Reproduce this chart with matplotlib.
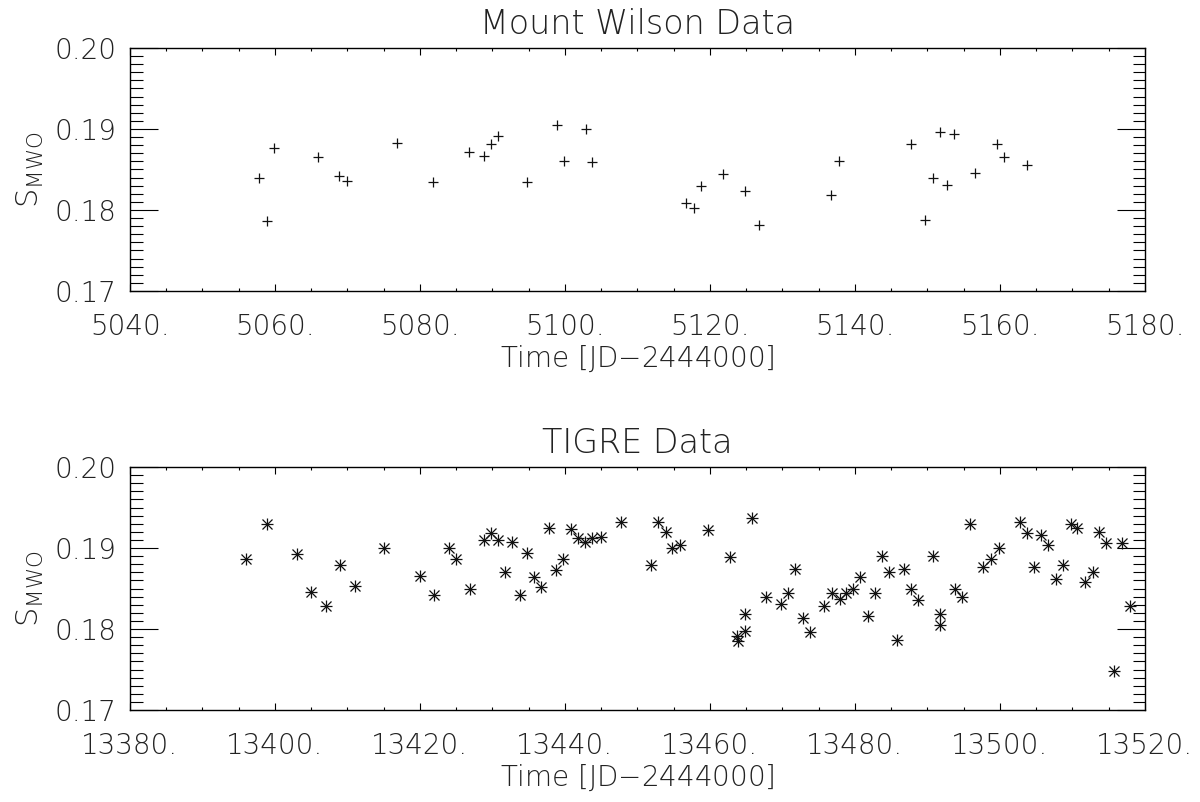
import numpy as np
import matplotlib
matplotlib.use('Agg')
import matplotlib.pyplot as plt
from matplotlib.ticker import MultipleLocator, FixedLocator

# Mount Wilson observations (JD-2444000, S_MWO)
mw_time = [5057.8, 5058.9, 5059.9, 5065.9, 5068.8, 5069.9, 5076.9, 5081.8, 5086.8,
           5088.8, 5089.8, 5090.8, 5094.7, 5098.9, 5099.9, 5102.9, 5103.8,
           5116.7, 5117.8, 5118.8, 5121.8, 5124.9, 5126.7, 5136.7, 5137.8,
           5147.7, 5149.7, 5150.7, 5151.7, 5152.7, 5153.7, 5156.6, 5159.6,
           5160.6, 5163.8]
mw_s = [0.1840, 0.1786, 0.1877, 0.1865, 0.1842, 0.1836, 0.1883, 0.1835, 0.1872,
        0.1867, 0.1882, 0.1891, 0.1835, 0.1905, 0.1860, 0.1900, 0.1859,
        0.1809, 0.1803, 0.1830, 0.1844, 0.1824, 0.1781, 0.1818, 0.1860,
        0.1881, 0.1787, 0.1839, 0.1896, 0.1831, 0.1894, 0.1846, 0.1881,
        0.1866, 0.1856]

# TIGRE observations
tg_time = [13396.0, 13398.9, 13403.0, 13405.0, 13407.0, 13409.0, 13411.0, 13415.0,
           13420.0, 13422.0, 13424.0, 13425.0, 13426.9, 13428.9, 13429.8, 13430.8,
           13431.8, 13432.7, 13433.8, 13434.8, 13435.8, 13436.7, 13437.8, 13438.8,
           13439.8, 13440.8, 13441.8, 13442.8, 13443.8, 13445.0, 13447.8, 13451.9,
           13452.8, 13453.9, 13454.8, 13455.9, 13459.8, 13462.8, 13463.8, 13463.9,
           13464.8, 13464.9, 13465.8, 13467.7, 13469.8, 13470.8, 13471.8, 13472.8,
           13473.8, 13475.8, 13476.8, 13477.9, 13478.8, 13479.7, 13480.7, 13481.8,
           13482.7, 13483.7, 13484.7, 13485.8, 13486.7, 13487.7, 13488.7, 13490.8,
           13491.8, 13491.8, 13493.8, 13494.8, 13495.9, 13497.6, 13498.7, 13499.9,
           13502.8, 13503.8, 13504.7, 13505.6, 13506.7, 13507.7, 13508.7, 13509.8,
           13510.7, 13511.8, 13512.8, 13513.7, 13514.7, 13515.7, 13516.8, 13517.9]
tg_s = [0.1886, 0.1930, 0.1893, 0.1846, 0.1828, 0.1879, 0.1853, 0.1900,
        0.1866, 0.1842, 0.1900, 0.1886, 0.1850, 0.1910, 0.1919, 0.1910,
        0.1870, 0.1907, 0.1842, 0.1894, 0.1864, 0.1852, 0.1925, 0.1873,
        0.1886, 0.1923, 0.1912, 0.1907, 0.1912, 0.1914, 0.1932, 0.1879,
        0.1932, 0.1920, 0.1900, 0.1904, 0.1922, 0.1889, 0.1791, 0.1785,
        0.1798, 0.1819, 0.1937, 0.1840, 0.1831, 0.1844, 0.1874, 0.1814,
        0.1796, 0.1828, 0.1844, 0.1837, 0.1844, 0.1850, 0.1864, 0.1816,
        0.1844, 0.1890, 0.1870, 0.1786, 0.1874, 0.1850, 0.1836, 0.1890,
        0.1819, 0.1805, 0.1850, 0.1840, 0.1930, 0.1877, 0.1886, 0.1900,
        0.1932, 0.1918, 0.1876, 0.1916, 0.1904, 0.1862, 0.1879, 0.1930,
        0.1925, 0.1858, 0.1870, 0.1920, 0.1906, 0.1748, 0.1906, 0.1828]

y_ticks = [0.17, 0.18, 0.19, 0.20]
FONT = dict(family='DejaVu Sans', weight='ultralight', color='#222222')


def style_axes(ax, xlim, xmajor):
    ax.set_xlim(xlim)
    ax.set_ylim(0.17, 0.20)
    ax.xaxis.set_major_locator(FixedLocator(xmajor))
    ax.xaxis.set_minor_locator(MultipleLocator(5))
    ax.yaxis.set_major_locator(FixedLocator(y_ticks))
    ax.yaxis.set_minor_locator(MultipleLocator(0.001))
    ax.set_xticklabels(['%d.' % v for v in xmajor], fontsize=20, **FONT)
    ax.set_yticklabels(['%.2f' % v for v in y_ticks], fontsize=20, **FONT)
    ax.tick_params(axis='x', which='major', direction='in', length=5, width=0.8,
                   top=True, pad=16)
    ax.tick_params(axis='x', which='minor', direction='in', length=2.5, width=0.8,
                   top=True)
    ax.tick_params(axis='y', which='major', direction='in', length=20, width=0.8,
                   right=True, pad=10)
    ax.tick_params(axis='y', which='minor', direction='in', length=9, width=0.8,
                   right=True)
    for sp in ax.spines.values():
        sp.set_linewidth(1.0)
    ax.set_xlabel('Time [JD$-$2444000]', fontsize=20, labelpad=2, **FONT)
    ax.set_ylabel(r'S$_{\rm MWO}$', fontsize=22, labelpad=6, **FONT)


def main():
    plt.rcParams['mathtext.fontset'] = 'custom'
    plt.rcParams['mathtext.rm'] = 'DejaVu Sans:ultralight'
    fig = plt.figure(figsize=(12, 8.02), dpi=100)
    ax = fig.add_axes([0.1083, 0.6372, 0.8458, 0.303])
    ax0 = fig.add_axes([0.1083, 0.1147, 0.8458, 0.303])

    ax.plot(mw_time, mw_s, linestyle='none', marker='+', markersize=7,
            markeredgewidth=0.9, color='#111111')
    style_axes(ax, (5040, 5180), list(range(5040, 5181, 20)))
    ax.set_title('Mount Wilson Data', fontsize=24, pad=10, **FONT)

    # IDL-style asterisk: plus and cross on top of each other
    ax0.plot(tg_time, tg_s, linestyle='none', marker='+', markersize=9,
             markeredgewidth=0.9, color='#111111')
    ax0.plot(tg_time, tg_s, linestyle='none', marker='x', markersize=7,
             markeredgewidth=0.9, color='#111111')
    style_axes(ax0, (13380, 13520), list(range(13380, 13521, 20)))
    ax0.set_title('TIGRE Data', fontsize=24, pad=10, **FONT)

    fig.savefig('out.png', dpi=100)


if __name__ == "__main__":
    main()
